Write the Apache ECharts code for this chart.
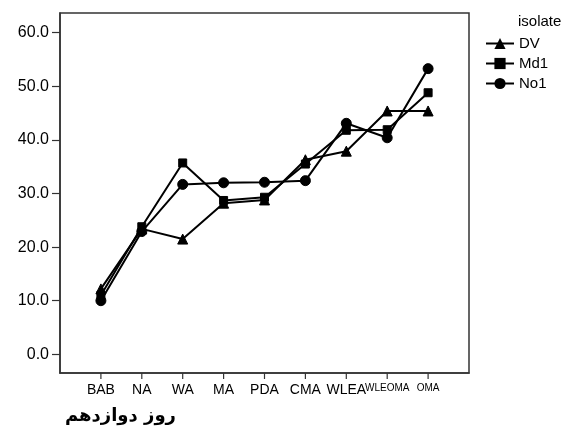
<!DOCTYPE html>
<html>
<head>
<meta charset="utf-8">
<script src="https://cdn.jsdelivr.net/npm/echarts@6/dist/echarts.min.js"></script>
<style>html,body{margin:0;padding:0;background:#fff;}#c{width:568px;height:434px;}</style>
</head>
<body>
<div id="c"></div>
<script>
const categories = ['BAB', 'NA', 'WA', 'MA', 'PDA', 'CMA', 'WLEA', 'WLEOMA', 'OMA'];
const seriesNames = ['DV', 'Md1', 'No1'];
const dvValues  = [12.2, 23.4, 21.5, 28.2, 28.8, 36.3, 37.9, 45.4, 45.4];
const md1Values = [11.0, 23.8, 35.7, 28.7, 29.3, 35.5, 41.8, 41.9, 48.8];
const no1Values = [10.0, 22.9, 31.7, 32.0, 32.1, 32.4, 43.1, 40.4, 53.3];
const yTicks = [0, 10, 20, 30, 40, 50, 60];
const titleText = 'روز دوازدهم';
const legendTitle = 'isolate';

const chart = echarts.init(document.getElementById('c'), null, {renderer: 'canvas'});
const font = 'Arial, "Liberation Sans", sans-serif';
const symbols = ['triangle', 'rect', 'circle'];
const sizes = [10, 8, 10];
const values = [dvValues, md1Values, no1Values];
const catIdx = categories.map((c, i) => i);
const frameLine = {color: '#333', width: 1.5};
const yMin = -3.49, yMax = 63.68;

const lineSeries = seriesNames.map((name, k) => ({
  name: name, type: 'line', data: catIdx.map(i => [i, values[k][i]]),
  symbol: symbols[k], symbolSize: sizes[k], showSymbol: true,
  lineStyle: {color: '#000', width: 2},
  itemStyle: {color: '#000', borderColor: '#000'},
  emphasis: {disabled: true}
}));

// x-axis tick marks below the frame, positioned through the axis scale
const tickSeries = {
  name: 'xticks', type: 'custom', clip: false, silent: true, z: 12,
  data: catIdx.map(i => [i]),
  encode: {x: 0},
  renderItem: (params, api) => {
    const p = api.coord([api.value(0), yMin]);
    return {type: 'line', shape: {x1: p[0], y1: p[1], x2: p[0], y2: p[1] + 6},
            style: {stroke: '#333', lineWidth: 1.2}};
  }
};

chart.setOption({
  animation: false,
  backgroundColor: '#fff',
  title: [
    {text: titleText, left: 65, top: 407, padding: 0,
     textStyle: {fontFamily: '"DejaVu Sans", sans-serif', fontWeight: 'bold', fontSize: 18, color: '#000'}},
    {text: legendTitle, left: 518, top: 14, padding: 0,
     textStyle: {fontFamily: font, fontWeight: 'normal', fontSize: 15, color: '#000'}}
  ],
  graphic: [{
    type: 'rect', silent: true, z: 10,
    shape: {x: 60, y: 13, width: 409, height: 360},
    style: {fill: 'none', stroke: '#333', lineWidth: 1.5}
  }],
  legend: {
    orient: 'vertical', left: 485, top: 36, padding: 0,
    itemWidth: 28, itemHeight: 14, itemGap: 5,
    textStyle: {fontFamily: font, fontSize: 15, color: '#000'},
    data: seriesNames
  },
  grid: {left: 60, width: 409, top: 13, height: 360, containLabel: false},
  xAxis: {
    type: 'value', min: -1, max: categories.length, position: 'bottom',
    axisLine: {show: true, onZero: false, lineStyle: frameLine},
    axisTick: {show: false},
    axisLabel: {
      show: true, margin: 10, color: '#000', fontFamily: font, fontSize: 14, customValues: catIdx,
      formatter: v => {
        const c = categories[Math.round(v)] || '';
        return Math.round(v) >= 7 ? '{s|' + c + '}' : c;
      },
      rich: {s: {fontSize: 10, fontFamily: font, color: '#000'}}
    },
    splitLine: {show: false},
    minorTick: {show: false}
  },
  yAxis: {
    type: 'value', min: yMin, max: yMax, position: 'left',
    axisLine: {show: true, onZero: false, lineStyle: frameLine},
    axisTick: {show: true, length: 8, customValues: yTicks, lineStyle: {color: '#333', width: 1.2}},
    axisLabel: {margin: 11, color: '#000', fontFamily: font, fontSize: 16,
      customValues: yTicks, formatter: v => Number(v).toFixed(1)},
    splitLine: {show: false}
  },
  series: lineSeries.concat([tickSeries])
});
</script>
</body>
</html>
